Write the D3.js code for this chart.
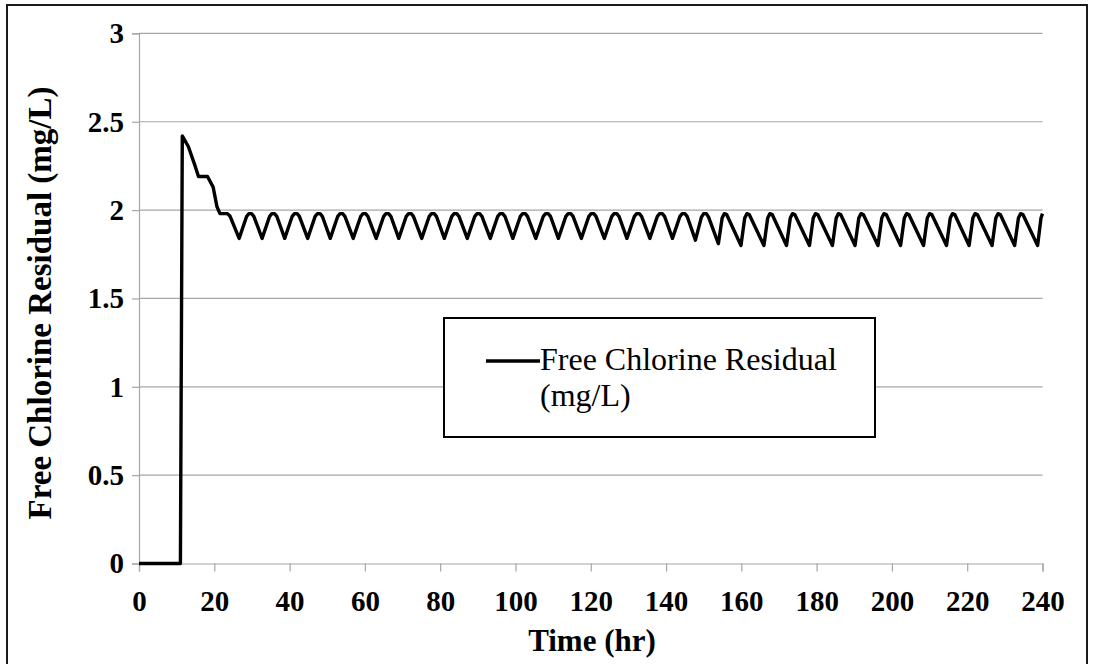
<!DOCTYPE html>
<html>
<head>
<meta charset="utf-8">
<script src="https://cdn.jsdelivr.net/npm/d3@7"></script>
<style>
  html, body { margin: 0; padding: 0; background: #fff; }
  svg { display: block; }
</style>
</head>
<body>
<svg id="chart" width="1094" height="664"></svg>
<script>
// ---- Data ----
const xTicks = [0, 20, 40, 60, 80, 100, 120, 140, 160, 180, 200, 220, 240];
const yTicks = [0, 0.5, 1, 1.5, 2, 2.5, 3];
const seriesName = ["Free Chlorine Residual", "(mg/L)"];
const xTitle = "Time (hr)";
const yTitle = "Free Chlorine Residual (mg/L)";

const timeHr = [
  0, 11, 11.5, 13.1, 14.9, 15.8, 18.2, 19.7, 20.7, 21.5, 23.5, 24.2,
  26.6, 28.6, 29.2, 29.9, 30.5,
  32.7, 34.7, 35.3, 36.0, 36.6,
  38.7, 40.7, 41.3, 42.0, 42.6,
  44.8, 46.8, 47.4, 48.1, 48.7,
  50.8, 52.8, 53.4, 54.1, 54.7,
  56.9, 58.9, 59.5, 60.2, 60.8,
  63.0, 65.0, 65.6, 66.3, 66.9,
  69.0, 71.0, 71.6, 72.3, 72.9,
  75.1, 77.1, 77.7, 78.4, 79.0,
  81.1, 83.1, 83.7, 84.4, 85.0,
  87.2, 89.2, 89.8, 90.5, 91.1,
  93.3, 95.3, 95.9, 96.6, 97.2,
  99.3, 101.3, 101.9, 102.6, 103.2,
  105.4, 107.4, 108.0, 108.7, 109.3,
  111.4, 113.4, 114.0, 114.7, 115.3,
  117.5, 119.5, 120.1, 120.8, 121.4,
  123.6, 125.6, 126.2, 126.9, 127.5,
  129.6, 131.6, 132.2, 132.9, 133.5,
  135.7, 137.7, 138.3, 139.0, 139.6,
  141.7, 143.7, 144.3, 145.0, 145.6,
  147.8, 149.4, 150.0, 150.7, 151.3,
  153.9, 154.9, 155.5, 156.1,
  159.9, 160.9, 161.5, 162.1,
  166.0, 167.0, 167.6, 168.2,
  172.0, 173.0, 173.6, 174.2,
  178.1, 179.1, 179.7, 180.3,
  184.2, 185.2, 185.8, 186.4,
  190.2, 191.2, 191.8, 192.4,
  196.3, 197.3, 197.9, 198.5,
  202.3, 203.3, 203.9, 204.5,
  208.4, 209.4, 210.0, 210.6,
  214.5, 215.5, 216.1, 216.7,
  220.5, 221.5, 222.1, 222.7,
  226.6, 227.6, 228.2, 228.8,
  232.6, 233.6, 234.2, 234.8,
  238.7, 239.6, 240.0
];

const chlorineMgL = [
  0, 0, 2.42, 2.36, 2.25, 2.19, 2.19, 2.13, 2.02, 1.98, 1.98, 1.965,
  1.84, 1.965, 1.98, 1.98, 1.965,
  1.84, 1.965, 1.98, 1.98, 1.965,
  1.84, 1.965, 1.98, 1.98, 1.965,
  1.84, 1.965, 1.98, 1.98, 1.965,
  1.84, 1.965, 1.98, 1.98, 1.965,
  1.84, 1.965, 1.98, 1.98, 1.965,
  1.84, 1.965, 1.98, 1.98, 1.965,
  1.84, 1.965, 1.98, 1.98, 1.965,
  1.84, 1.965, 1.98, 1.98, 1.965,
  1.84, 1.965, 1.98, 1.98, 1.965,
  1.84, 1.965, 1.98, 1.98, 1.965,
  1.84, 1.965, 1.98, 1.98, 1.965,
  1.84, 1.965, 1.98, 1.98, 1.965,
  1.84, 1.965, 1.98, 1.98, 1.965,
  1.84, 1.965, 1.98, 1.98, 1.965,
  1.84, 1.965, 1.98, 1.98, 1.965,
  1.84, 1.965, 1.98, 1.98, 1.965,
  1.84, 1.965, 1.98, 1.98, 1.965,
  1.84, 1.965, 1.98, 1.98, 1.965,
  1.84, 1.965, 1.98, 1.98, 1.965,
  1.83, 1.96, 1.98, 1.98, 1.96,
  1.81, 1.955, 1.98, 1.975,
  1.80, 1.955, 1.98, 1.975,
  1.80, 1.955, 1.98, 1.975,
  1.80, 1.955, 1.98, 1.975,
  1.80, 1.955, 1.98, 1.975,
  1.80, 1.955, 1.98, 1.975,
  1.80, 1.955, 1.98, 1.975,
  1.80, 1.955, 1.98, 1.975,
  1.80, 1.955, 1.98, 1.975,
  1.80, 1.955, 1.98, 1.975,
  1.80, 1.955, 1.98, 1.975,
  1.80, 1.955, 1.98, 1.975,
  1.80, 1.955, 1.98, 1.975,
  1.80, 1.955, 1.98, 1.975,
  1.80, 1.955, 1.98
];

// ---- Layout ----
const plot = { left: 139, right: 1042.5, top: 33.4, bottom: 563.5 };
const FONT = "'Liberation Serif', 'Times New Roman', Times, serif";
const GRID = "#a6a6a6";

const svg = d3.select("#chart");

// outer frame
svg.append("rect")
  .attr("x", 7).attr("y", 5)
  .attr("width", 1080).attr("height", 670)
  .attr("fill", "#fff")
  .attr("stroke", "#1a1a1a").attr("stroke-width", 2);

const x = d3.scaleLinear().domain([0, 240]).range([plot.left, plot.right]);
const y = d3.scaleLinear().domain([0, 3]).range([plot.bottom, plot.top]);

// gridlines
svg.append("g")
  .selectAll("line")
  .data(yTicks.filter(d => d > 0))
  .join("line")
  .attr("x1", plot.left).attr("x2", plot.right)
  .attr("y1", d => y(d)).attr("y2", d => y(d))
  .attr("stroke", GRID).attr("stroke-width", 1.2);

// y axis
const yAxis = svg.append("g")
  .attr("transform", `translate(${plot.left},0)`)
  .call(d3.axisLeft(y).tickValues(yTicks).tickSize(7).tickPadding(8).tickFormat(d3.format("")));
yAxis.select(".domain").attr("stroke", GRID).attr("stroke-width", 1.2);
yAxis.selectAll(".tick line").attr("stroke", GRID).attr("stroke-width", 1.2);
yAxis.selectAll(".tick text")
  .attr("font-family", FONT).attr("font-size", 29).attr("font-weight", "bold")
  .attr("fill", "#000");

// x axis
const xAxis = svg.append("g")
  .attr("transform", `translate(0,${plot.bottom})`)
  .call(d3.axisBottom(x).tickValues(xTicks).tickSize(8).tickPadding(19).tickFormat(d3.format("d")));
xAxis.select(".domain").attr("stroke", GRID).attr("stroke-width", 1.2);
xAxis.selectAll(".tick line").attr("stroke", GRID).attr("stroke-width", 1.2);
xAxis.selectAll(".tick text")
  .attr("font-family", FONT).attr("font-size", 29).attr("font-weight", "bold")
  .attr("fill", "#000");

// series line
const points = timeHr.map((t, i) => [t, chlorineMgL[i]]);
const line = d3.line().x(d => x(d[0])).y(d => y(d[1])).curve(d3.curveLinear);
svg.append("path")
  .datum(points)
  .attr("d", line)
  .attr("fill", "none")
  .attr("stroke", "#000")
  .attr("stroke-width", 3.4)
  .attr("stroke-linejoin", "round");

// axis titles
svg.append("text")
  .attr("x", 592).attr("y", 651)
  .attr("text-anchor", "middle")
  .attr("font-family", FONT).attr("font-size", 31).attr("font-weight", "bold")
  .text(xTitle);

svg.append("text")
  .attr("transform", "translate(51,303) rotate(-90)")
  .attr("text-anchor", "middle")
  .attr("font-family", FONT).attr("font-size", 33).attr("font-weight", "bold")
  .text(yTitle);

// legend
const lg = svg.append("g");
lg.append("rect")
  .attr("x", 444).attr("y", 318).attr("width", 431).attr("height", 119)
  .attr("fill", "#fff").attr("stroke", "#000").attr("stroke-width", 2);
lg.append("line")
  .attr("x1", 486).attr("x2", 540).attr("y1", 361).attr("y2", 361)
  .attr("stroke", "#000").attr("stroke-width", 3.4);
lg.append("text")
  .attr("x", 540).attr("y", 370)
  .attr("font-family", FONT).attr("font-size", 32)
  .text(seriesName[0]);
lg.append("text")
  .attr("x", 540).attr("y", 406)
  .attr("font-family", FONT).attr("font-size", 32)
  .text(seriesName[1]);
</script>
</body>
</html>
